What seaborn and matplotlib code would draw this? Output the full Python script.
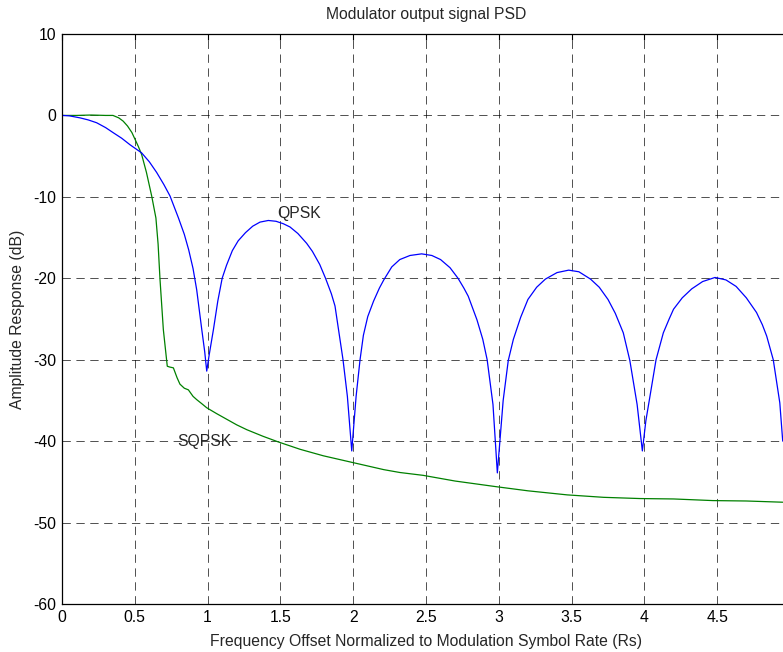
import numpy as np
import pandas as pd
import seaborn as sns
import matplotlib.pyplot as plt

# values
qpsk_x = [0.0, 0.05, 0.124, 0.18, 0.238, 0.3, 0.35, 0.41, 0.467, 0.547, 0.6, 0.65, 0.7, 0.742,
          0.8, 0.84, 0.87, 0.9, 0.925, 0.96, 0.98, 0.994, 1.01, 1.04, 1.07, 1.10, 1.13, 1.17,
          1.21, 1.26, 1.31, 1.36, 1.417, 1.47, 1.52, 1.566, 1.62, 1.68, 1.72, 1.77, 1.81, 1.85,
          1.875, 1.93, 1.96, 1.99, 2.02, 2.047, 2.07, 2.10, 2.14, 2.18, 2.21, 2.265, 2.32, 2.39,
          2.47, 2.54, 2.60, 2.665, 2.72, 2.76, 2.79, 2.85, 2.89, 2.92, 2.96, 2.99, 3.03, 3.065,
          3.10, 3.15, 3.20, 3.26, 3.32, 3.40, 3.48, 3.55, 3.63, 3.69, 3.75, 3.80, 3.855, 3.90,
          3.95, 3.986, 4.01, 4.04, 4.08, 4.13, 4.17, 4.20, 4.26, 4.325, 4.40, 4.485, 4.56, 4.63,
          4.70, 4.77, 4.81, 4.84, 4.885, 4.93, 4.95]
qpsk_db = [0.0, -0.05, -0.3, -0.55, -0.9, -1.5, -2.1, -2.8, -3.6, -4.6, -5.7, -7.0, -8.5, -9.9,
           -12.6, -14.6, -16.5, -18.8, -21.4, -26.3, -29.0, -31.4, -29.5, -26.3, -22.8, -20.0,
           -18.4, -16.6, -15.4, -14.4, -13.6, -13.1, -12.9, -13.0, -13.3, -13.7, -14.5, -15.7,
           -16.7, -18.3, -20.0, -21.9, -23.4, -30.0, -34.5, -41.2, -34.5, -30.0, -27.0, -24.7,
           -22.8, -21.2, -20.2, -18.6, -17.7, -17.2, -17.0, -17.2, -17.7, -18.7, -20.0, -21.2,
           -22.2, -25.1, -27.5, -30.0, -35.5, -43.9, -35.0, -30.1, -27.5, -24.8, -22.6, -21.1,
           -20.1, -19.3, -19.0, -19.2, -20.1, -21.1, -22.6, -24.3, -26.7, -30.1, -35.5, -41.2,
           -37.5, -34.3, -30.0, -26.7, -25.0, -23.8, -22.4, -21.3, -20.4, -19.9, -20.2, -21.0,
           -22.4, -24.2, -25.7, -27.1, -30.0, -35.3, -40.0]

sqpsk_x = [0.0, 0.1, 0.2, 0.3, 0.35, 0.39, 0.42, 0.45, 0.48, 0.524, 0.547, 0.58, 0.616, 0.645,
           0.66, 0.673, 0.696, 0.723, 0.74, 0.765, 0.79, 0.81, 0.84, 0.868, 0.9, 0.925, 0.96,
           0.994, 1.06, 1.13, 1.2, 1.27, 1.38, 1.486, 1.635, 1.795, 1.99, 2.21, 2.32, 2.48, 2.7,
           2.985, 3.2, 3.47, 3.72, 3.97, 4.2, 4.47, 4.7, 4.95]
sqpsk_db = [0.0, 0.0, 0.05, 0.0, 0.0, -0.3, -0.7, -1.3, -2.1, -3.8, -4.8, -7.0, -9.9, -12.6,
            -15.8, -20.1, -26.3, -30.8, -30.9, -31.0, -32.2, -33.0, -33.5, -33.7, -34.5, -34.9,
            -35.4, -35.9, -36.6, -37.3, -38.0, -38.6, -39.4, -40.1, -41.0, -41.8, -42.6, -43.5,
            -43.85, -44.2, -44.9, -45.6, -46.1, -46.6, -46.9, -47.05, -47.1, -47.3, -47.35, -47.5]

x_ticks = [0, 0.5, 1, 1.5, 2, 2.5, 3, 3.5, 4, 4.5]
y_ticks = [10, 0, -10, -20, -30, -40, -50, -60]

sns.set_theme(style='white')
plt.rcParams['font.family'] = ['Liberation Sans', 'DejaVu Sans']
plt.rcParams['lines.scale_dashes'] = False
fs = 11.3

fig = plt.figure(figsize=(7.83, 6.52), dpi=100)
ax = fig.add_axes([62 / 783, 48 / 652, 728 / 783, 570 / 652])

qpsk = pd.DataFrame({'f': qpsk_x, 'db': qpsk_db})
sqpsk = pd.DataFrame({'f': sqpsk_x, 'db': sqpsk_db})
sns.lineplot(data=sqpsk, x='f', y='db', ax=ax, color='#008000', lw=0.9)
sns.lineplot(data=qpsk, x='f', y='db', ax=ax, color='#0000ff', lw=0.9)

ax.set_xlim(0, 5)
ax.set_ylim(-60, 10)
ax.set_xticks(x_ticks)
ax.set_xticklabels([f'{t:g}' for t in x_ticks])
ax.set_yticks(y_ticks)
ax.set_yticklabels([f'{t:g}' for t in y_ticks])
ax.grid(True, color='black', lw=0.6, ls=(0, (6, 4)), alpha=0.8)
for s in ax.spines.values():
    s.set_color('black')
    s.set_linewidth(0.9)
ax.tick_params(direction='in', length=4, width=0.8, colors='black', labelsize=fs,
               top=True, right=True, pad=4)

ax.text(1.48, -12, 'QPSK', fontsize=fs, va='center', ha='left')
ax.text(0.79, -40, 'SQPSK', fontsize=fs, va='center', ha='left')

ax.set_title('Modulator output signal PSD', fontsize=fs, pad=10.5)
ax.set_xlabel('Frequency Offset Normalized to Modulation Symbol Rate (Rs)', fontsize=fs, labelpad=7)
ax.set_ylabel('Amplitude Response (dB)', fontsize=fs, labelpad=6)

fig.savefig('out.png', dpi=100)
